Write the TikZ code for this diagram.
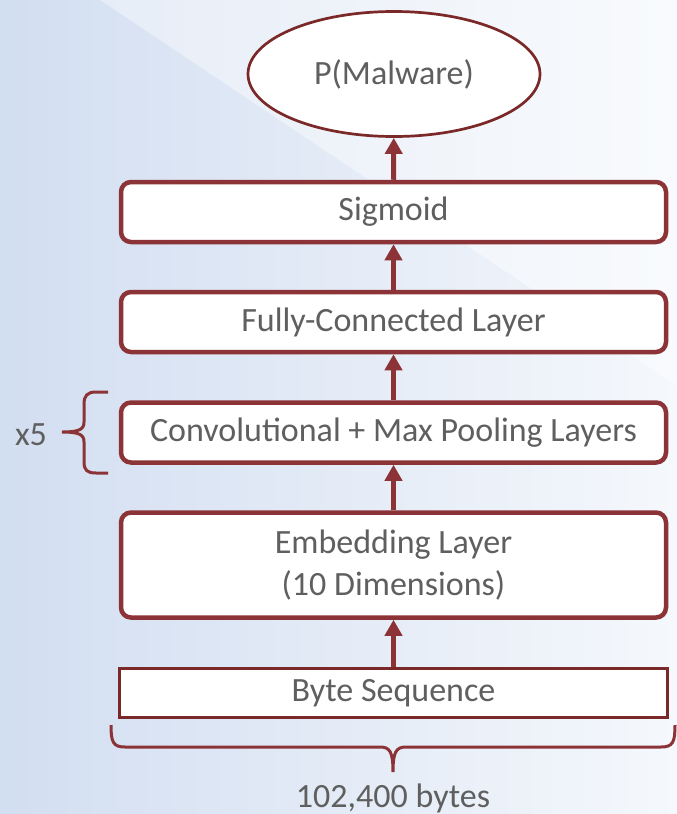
\documentclass[tikz,border=0pt]{standalone}
\usepackage{fontspec}
\setmainfont{Carlito}
\usetikzlibrary{arrows.meta,shapes.geometric}
\definecolor{brd}{RGB}{139,51,54}
\definecolor{brd2}{RGB}{122,40,40}
\definecolor{txt}{RGB}{95,95,95}
\definecolor{bgl}{RGB}{210,222,241}
\definecolor{bgr}{RGB}{245,248,252}
\begin{document}
\begin{tikzpicture}[x=1pt,y=-1pt,
  lbl/.style={text=txt, font=\fontsize{34}{42}\selectfont, align=center, inner sep=0pt},
  layer/.style={lbl, draw=brd, line width=4.5pt, rounded corners=10pt, fill=white,
    minimum width=545pt, minimum height=60pt},
  flow/.style={draw=brd, line width=5pt, -{Triangle[width=17pt,length=16pt]}},
  bracepath/.style={draw=brd, line width=3pt}]
\useasboundingbox (0,0) rectangle (677,814);
\shade[left color=bgl, right color=bgr] (0,0) rectangle (677,814);
\fill[white, opacity=0.4] (100,0) -- (677,0) -- (677,386) -- cycle;

\node[lbl, ellipse, draw=brd2, line width=2.7pt, fill=white, minimum width=292pt, minimum height=125pt] (out) at (394,74) {P(Malware)};
\node[layer] (sig) at (393.5,212) {Sigmoid};
\node[layer] (fc) at (393.5,322) {Fully-Connected Layer};
\node[layer] (conv) at (393.5,432.5) {Convolutional + Max Pooling Layers};
\node[layer, minimum height=105pt] (emb) at (393.5,565) {Embedding Layer\\(10 Dimensions)};
\node[lbl, draw=brd2, line width=2.7pt, fill=white, minimum width=548pt, minimum height=49pt] (byte) at (393.5,693) {Byte Sequence};

\draw[flow] (byte) -- (emb);
\draw[flow] (emb) -- (conv);
\draw[flow] (conv) -- (fc);
\draw[flow] (fc) -- (sig);
\draw[flow] (sig) -- (out);

% bottom brace
\draw[bracepath] (111,725) .. controls (111,742) and (113,747) .. (125,747) -- (380,747)
  .. controls (390,747) and (393,752) .. (393,772)
  .. controls (393,752) and (396,747) .. (406,747) -- (661,747)
  .. controls (673,747) and (675,742) .. (675,725);
\node[lbl] (bytes) at (393,798) {102,400 bytes};

% left brace
\draw[bracepath] (108,392) -- (96,392) .. controls (87,392) and (84,396) .. (84,404) -- (84,422)
  .. controls (84,429) and (80,432) .. (62,432)
  .. controls (80,432) and (84,435) .. (84,442) -- (84,462)
  .. controls (84,470) and (87,473) .. (96,473) -- (108,473);
\node[lbl] (x5) at (31,435) {x5};
\end{tikzpicture}
\end{document}
